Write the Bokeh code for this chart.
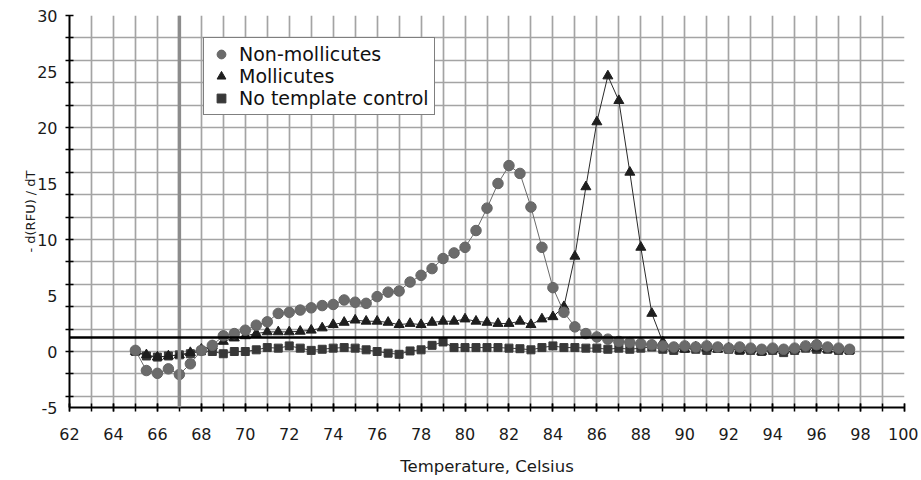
from bokeh.plotting import figure
from bokeh.models import Range1d, FixedTicker, Span, Legend, LegendItem
from bokeh.embed import file_html
from bokeh.resources import INLINE

temps = [65.0, 65.5, 66.0, 66.5, 67.0, 67.5, 68.0, 68.5, 69.0, 69.5,
         70.0, 70.5, 71.0, 71.5, 72.0, 72.5, 73.0, 73.5, 74.0, 74.5,
         75.0, 75.5, 76.0, 76.5, 77.0, 77.5, 78.0, 78.5, 79.0, 79.5,
         80.0, 80.5, 81.0, 81.5, 82.0, 82.5, 83.0, 83.5, 84.0, 84.5,
         85.0, 85.5, 86.0, 86.5, 87.0, 87.5, 88.0, 88.5, 89.0, 89.5,
         90.0, 90.5, 91.0, 91.5, 92.0, 92.5, 93.0, 93.5, 94.0, 94.5,
         95.0, 95.5, 96.0, 96.5, 97.0, 97.5]

non_mollicutes = [0.1, -1.7, -1.95, -1.55, -2.05, -1.1, 0.1, 0.55, 1.4, 1.6,
                  1.9, 2.35, 2.65, 3.4, 3.5, 3.7, 3.9, 4.1, 4.2, 4.6,
                  4.4, 4.3, 4.9, 5.3, 5.4, 6.2, 6.8, 7.4, 8.3, 8.8,
                  9.3, 10.8, 12.8, 15.0, 16.6, 15.9, 12.9, 9.3, 5.7, 3.5,
                  2.2, 1.6, 1.3, 1.1, 0.9, 0.8, 0.7, 0.6, 0.5, 0.4,
                  0.5, 0.4, 0.5, 0.4, 0.3, 0.4, 0.3, 0.2, 0.3, 0.2,
                  0.3, 0.5, 0.6, 0.4, 0.3, 0.2]

mollicutes = [0.0, -0.3, -0.5, -0.4, -0.3, -0.1, 0.2, 0.5, 0.9, 1.2,
              1.4, 1.6, 1.75, 1.75, 1.75, 1.8, 1.9, 2.1, 2.4, 2.6,
              2.8, 2.7, 2.7, 2.6, 2.4, 2.5, 2.4, 2.6, 2.7, 2.7,
              2.9, 2.7, 2.6, 2.5, 2.5, 2.7, 2.4, 2.9, 3.1, 4.0,
              8.5, 14.7, 20.5, 24.6, 22.4, 16.0, 9.3, 3.4, 0.85, 0.3,
              0.2, 0.4, 0.3, 0.2, 0.3, 0.1, 0.2, 0.0, 0.2, 0.1,
              0.2, 0.4, 0.3, 0.2, 0.2, 0.1]

no_template = [0.0, -0.4, -0.5, -0.4, -0.3, -0.2, 0.05, 0.0, -0.2, 0.0,
               0.0, 0.15, 0.35, 0.3, 0.5, 0.3, 0.1, 0.2, 0.3, 0.35,
               0.3, 0.15, 0.0, -0.15, -0.25, 0.05, 0.15, 0.55, 0.85, 0.35,
               0.35, 0.35, 0.35, 0.35, 0.3, 0.25, 0.15, 0.35, 0.5, 0.35,
               0.35, 0.3, 0.3, 0.2, 0.3, 0.2, 0.3, 0.4, 0.2, 0.1,
               0.3, 0.2, 0.1, 0.3, 0.2, 0.1, 0.1, 0.0, 0.1, -0.1,
               0.1, 0.3, 0.2, 0.2, 0.1, 0.1]

x_labels = list(range(62, 101, 2))
x_minor = list(range(62, 101))
y_labels = list(range(-5, 31, 5))
y_minor = list(range(-4, 31, 2))
threshold = 1.25
marker_temp = 67.0

p = figure(width=918, height=478, output_backend="svg", toolbar_location=None,
           x_range=Range1d(62, 100), y_range=Range1d(-5, 30),
           min_border_left=69, min_border_right=14, min_border_top=15,
           min_border_bottom=71, background_fill_color="white")
p.outline_line_color = None

# grids
p.xgrid.ticker = FixedTicker(ticks=x_minor)
p.ygrid.ticker = FixedTicker(ticks=y_minor)
for g in (p.xgrid, p.ygrid):
    g.grid_line_color = "#a4a4a4"
    g.grid_line_width = 1.7

# axes
p.xaxis.ticker = FixedTicker(ticks=x_labels, minor_ticks=x_minor)
p.yaxis.ticker = FixedTicker(ticks=y_labels, minor_ticks=y_minor)
for ax in (p.xaxis, p.yaxis):
    ax.axis_line_color = "black"
    ax.axis_line_width = 2
    ax.major_tick_line_color = "black"
    ax.minor_tick_line_color = "black"
    ax.major_tick_line_width = 1.5
    ax.minor_tick_line_width = 1.5
    ax.minor_tick_in = 4
    ax.minor_tick_out = 4
    ax.major_label_text_font = "DejaVu Sans"
    ax.major_label_text_font_size = "16px"
    ax.major_label_text_color = "#1a1a1a"
    ax.axis_label_text_font = "DejaVu Sans"
    ax.axis_label_text_font_style = "normal"
    ax.axis_label_text_color = "#1a1a1a"

p.xaxis.major_tick_in = 4
p.xaxis.major_tick_out = 4
p.xaxis.major_label_standoff = 16
p.xaxis.axis_label = "Temperature, Celsius"
p.xaxis.axis_label_text_font_size = "16.5px"
p.xaxis.axis_label_standoff = 14

p.yaxis.major_tick_in = 0
p.yaxis.major_tick_out = 0
p.yaxis.major_label_standoff = 8
p.yaxis.major_label_overrides = {-5: "-5"}
p.yaxis.axis_label = "- d(RFU) / dT"
p.yaxis.axis_label_text_font_size = "13px"
p.yaxis.axis_label_standoff = -4

# series
p.line(temps, no_template, line_color="#3a3a3a", line_width=1)
sq = p.scatter(temps, no_template, marker="square", size=8,
               fill_color="#383838", line_color="#383838")
p.line(temps, mollicutes, line_color="#2a2a2a", line_width=1)
tr = p.scatter(temps, mollicutes, marker="triangle", size=10,
               fill_color="#1e1e1e", line_color="#1e1e1e")
p.line(temps, non_mollicutes, line_color="#6a6a6a", line_width=1)
ci = p.scatter(temps, non_mollicutes, marker="circle", size=10.5,
               fill_color="#6b6b6b", line_color="#656565")

p.add_layout(Span(location=marker_temp, dimension="height",
                  line_color="#8c8c8c", line_width=3.5))
p.add_layout(Span(location=threshold, dimension="width",
                  line_color="black", line_width=2.5))

legend = Legend(items=[LegendItem(label="Non-mollicutes", renderers=[ci]),
                       LegendItem(label="Mollicutes", renderers=[tr]),
                       LegendItem(label="No template control", renderers=[sq])],
                location=(134, 292), orientation="vertical",
                border_line_color="black", border_line_width=1.5,
                background_fill_color="white", background_fill_alpha=1.0,
                padding=5, spacing=0, margin=0,
                glyph_height=22, glyph_width=24, label_height=22,
                label_standoff=6, label_text_font="DejaVu Sans",
                label_text_font_size="19px", label_text_color="#111111")
p.add_layout(legend)

open("out.html", "w").write(file_html(p, INLINE))
